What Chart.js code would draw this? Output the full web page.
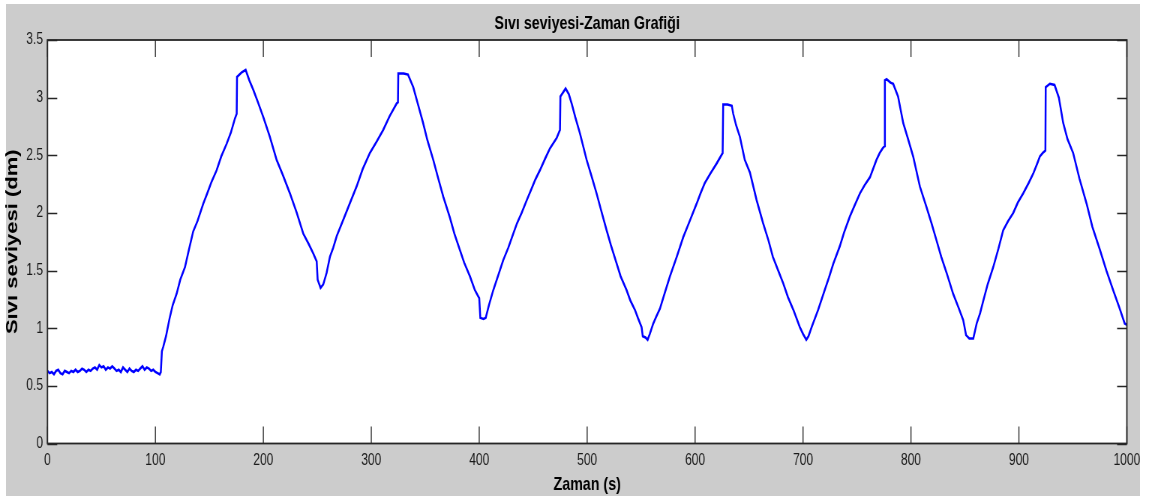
<!DOCTYPE html>
<html>
<head>
<meta charset="utf-8">
<script src="https://cdn.jsdelivr.net/npm/chart.js@4.4.1/dist/chart.umd.min.js"></script>
<style>
html, body { margin: 0; padding: 0; background: #fff; overflow: hidden; }
/* the original figure is squeezed sideways, so draw wide and squeeze it */
#wrap { width: 1533px; height: 499px; transform: scaleX(0.75); transform-origin: 0 0; }
</style>
</head>
<body>
<div id="wrap"><canvas id="levelChart"></canvas></div>
<script>
var times = [0,2,4,6,8,10,12,14,16,18,20,22,24,26,28,30,32,34,36,38,40,42,44,46,48,50,52,54,56,58,60,62,64,66,68,70,72,74,76,78,80,82,84,86,88,90,92,94,96,98,100,102,104,
  105,106,107.3,109.8,113,116,119.7,123,127.4,131,135,139,144.3,148,152,156.7,161,166,170,173.7,175.3,175.6,180,183.6,187,190.6,195,200,206,212.3,218,224.6,231,237,242,246.2,249.4,250.3,253,255.5,258.6,261.7,264.8,268,274,280,286.4,292,298.7,305,311,317,323.5,324.7,325,330,334,338.9,343,348,352,357.4,362,366.7,372.8,377,382,386,391.4,396,400,401,404,406,
  409,413,418,422.2,427,431.5,435,439.3,444,448.5,452,456.2,461,465.5,471.7,474.8,475.2,478,480,483,485.6,489,493.3,499.5,504,508.7,513,518,522,527,531,536.5,540,544.2,547,550.4,551.5,554,556,558,561.2,564,567.4,572,576.7,583,589,595,601.4,605,609,614,620,625.5,626,630,634,635.3,638,641.5,646,650.8,657,663,668,672,677,681.6,686,691,697,700,703,705,
  708,714,720,724,728,734,738,743.4,748,752.7,757,762,768,771,773.7,775.5,775.8,777.4,781,783.5,788,792.8,797,802,808.2,814.4,819,823.7,828,833,839,844,848.4,851,854,857.7,860.8,864,867,871,876.2,881,885.4,890,894.7,899,904,909,913.2,917,919.4,922,924.5,924.8,928.7,933,937,941,945,950.2,956,962.7,968,975,981,987.3,993,998,1000];
var levels = [0.63,0.61,0.62,0.60,0.63,0.64,0.61,0.60,0.63,0.62,0.61,0.63,0.62,0.64,0.62,0.63,0.65,0.64,0.62,0.64,0.63,0.65,0.66,0.64,0.68,0.66,0.67,0.64,0.66,0.65,0.67,0.65,0.63,0.64,0.62,0.66,0.64,0.62,0.65,0.63,0.62,0.64,0.63,0.65,0.67,0.64,0.66,0.65,0.63,0.64,0.62,0.61,0.60,
  0.62,0.80,0.84,0.93,1.08,1.20,1.30,1.42,1.53,1.68,1.84,1.93,2.08,2.17,2.27,2.37,2.49,2.60,2.70,2.82,2.86,3.18,3.22,3.24,3.15,3.07,2.96,2.83,2.66,2.46,2.33,2.17,2.00,1.82,1.73,1.65,1.58,1.42,1.35,1.38,1.48,1.62,1.70,1.80,1.94,2.08,2.23,2.38,2.52,2.62,2.72,2.84,2.95,2.96,3.21,3.21,3.20,3.09,2.95,2.78,2.63,2.46,2.30,2.14,1.96,1.82,1.68,1.57,1.45,1.33,1.26,1.09,1.08,1.09,
  1.20,1.33,1.47,1.59,1.70,1.82,1.91,2.00,2.11,2.21,2.29,2.37,2.47,2.56,2.65,2.72,3.01,3.05,3.08,3.03,2.95,2.83,2.69,2.46,2.32,2.17,2.02,1.85,1.72,1.57,1.45,1.33,1.24,1.16,1.09,1.01,0.93,0.92,0.90,0.95,1.04,1.10,1.17,1.31,1.45,1.62,1.79,1.93,2.08,2.17,2.26,2.34,2.43,2.52,2.94,2.94,2.93,2.86,2.76,2.66,2.46,2.35,2.11,1.91,1.76,1.62,1.50,1.39,1.27,1.16,1.01,0.95,0.90,0.93,
  1.01,1.16,1.33,1.44,1.56,1.71,1.83,1.97,2.07,2.17,2.24,2.31,2.46,2.52,2.56,2.58,3.15,3.16,3.13,3.12,3.01,2.78,2.65,2.49,2.23,2.05,1.91,1.76,1.62,1.48,1.30,1.18,1.07,0.94,0.91,0.91,1.04,1.13,1.24,1.38,1.53,1.69,1.85,1.93,2.00,2.09,2.17,2.26,2.34,2.43,2.49,2.52,2.54,3.09,3.12,3.11,3.00,2.78,2.64,2.52,2.30,2.08,1.88,1.68,1.50,1.33,1.18,1.04,1.03];
var xTicks = [0,100,200,300,400,500,600,700,800,900,1000];
var yTicks = [0,0.5,1,1.5,2,2.5,3,3.5];
var chartTitle = 'Sıvı seviyesi-Zaman Grafiği';
var xLabel = 'Zaman (s)';
var yLabel = 'Sıvı seviyesi (dm)';

var sans = '"Liberation Sans", Arial, sans-serif';

// grey figure, white axes box, inward ticks on all four sides
var matlabFrame = {
  id: 'matlabFrame',
  beforeDraw: function(chart) {
    var c = chart.ctx, a = chart.chartArea;
    c.save();
    c.fillStyle = '#ffffff';
    c.fillRect(0, 0, chart.width, chart.height);
    c.fillStyle = '#cccccc';
    c.fillRect(8, 4, 1512, 492);
    c.fillStyle = '#ffffff';
    c.fillRect(a.left, a.top, a.right - a.left, a.bottom - a.top);
    c.restore();
  },
  afterDatasetsDraw: function(chart) {
    var c = chart.ctx, a = chart.chartArea;
    var xs = chart.scales.x, ys = chart.scales.y;
    c.save();
    c.strokeStyle = '#262626';
    c.lineWidth = 1.3;
    c.beginPath();
    xTicks.forEach(function(v) {
      var px = xs.getPixelForValue(v);
      c.moveTo(px, a.bottom); c.lineTo(px, a.bottom - 17);
      c.moveTo(px, a.top); c.lineTo(px, a.top + 17);
    });
    yTicks.forEach(function(v) {
      var py = Math.round(ys.getPixelForValue(v)) + 0.5;
      c.moveTo(a.left, py); c.lineTo(a.left + 13, py);
      c.moveTo(a.right, py); c.lineTo(a.right - 13, py);
    });
    c.stroke();
    c.lineWidth = 1.8;
    c.strokeRect(a.left, a.top, a.right - a.left, a.bottom - a.top);
    c.fillStyle = '#000';
    c.font = 'bold 19px ' + sans;
    c.textAlign = 'center';
    c.textBaseline = 'alphabetic';
    c.fillText(chartTitle, (a.left + a.right) / 2, 29);
    c.restore();
  }
};

var points = times.map(function(t, i) { return { x: t, y: levels[i] }; });

new Chart(document.getElementById('levelChart').getContext('2d'), {
  type: 'line',
  data: {
    datasets: [{
      data: points,
      borderColor: '#0000ff',
      borderWidth: 2.5,
      pointRadius: 0,
      tension: 0,
      fill: false
    }]
  },
  options: {
    responsive: true,
    maintainAspectRatio: false,
    animation: false,
    layout: { padding: { left: 4, right: 30.5, top: 40, bottom: 0 } },
    plugins: {
      legend: { display: false },
      tooltip: { enabled: false },
      title: { display: false }
    },
    scales: {
      x: {
        type: 'linear',
        min: 0,
        max: 1000,
        afterBuildTicks: function(s) { s.ticks = xTicks.map(function(v) { return { value: v }; }); },
        afterFit: function(s) { s.height = 55.5; },
        grid: { display: false, drawTicks: false },
        border: { display: false },
        ticks: {
          autoSkip: false,
          maxRotation: 0,
          padding: 7,
          color: '#1a1a1a',
          font: { family: sans, size: 16 },
          callback: function(v) { return String(v); }
        },
        title: {
          display: true,
          text: xLabel,
          color: '#000',
          font: { family: sans, size: 19, weight: 'bold' },
          padding: { top: 0, bottom: 3 }
        }
      },
      y: {
        type: 'linear',
        min: 0,
        max: 3.5,
        afterBuildTicks: function(s) { s.ticks = yTicks.map(function(v) { return { value: v }; }); },
        afterFit: function(s) { s.width = 59.3; },
        grid: { display: false, drawTicks: false },
        border: { display: false },
        ticks: {
          padding: 6,
          color: '#1a1a1a',
          font: { family: sans, size: 16 },
          callback: function(v) { return String(v); }
        },
        title: {
          display: true,
          text: yLabel,
          color: '#000',
          font: { family: sans, size: 22, weight: 'bold' },
          padding: 0
        }
      }
    }
  },
  plugins: [matlabFrame]
});
</script>
</body>
</html>
